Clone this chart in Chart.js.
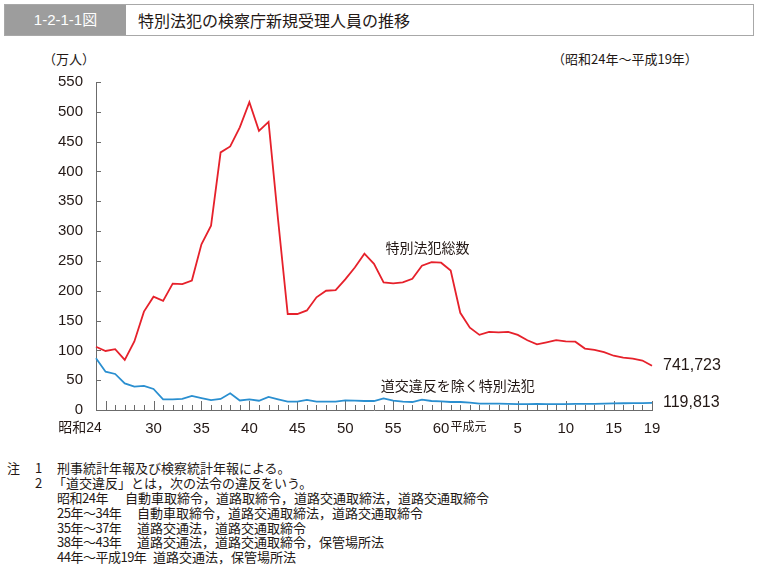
<!DOCTYPE html>
<html lang="ja">
<head>
<meta charset="utf-8">
<script src="https://cdn.jsdelivr.net/npm/chart.js@4.4.1/dist/chart.umd.min.js"></script>
<style>
    body { margin: 0; background: #fff; width: 758px; height: 570px; position: relative; overflow: hidden;
           font-family: "Noto Sans CJK JP", sans-serif; color: #231815; }
    .header { position: absolute; left: 4px; top: 4px; width: 748px; height: 30px; border: 1px solid #a8a8a8; }
    .fig-no { position: absolute; left: 0; top: 0; width: 121px; height: 30px; background: #9d9d9d; color: #fff;
              font: 15px "Liberation Sans", "Noto Sans CJK JP", sans-serif; line-height: 30px; text-align: center; }
    .title { position: absolute; left: 133px; top: 0; font-size: 16px; line-height: 30px; }
    .unit { position: absolute; top: 50px; font-size: 13px; line-height: 18px; }
    #chart { position: absolute; left: 0; top: 60px; }
    .note { position: absolute; font-size: 13px; line-height: 15px; white-space: nowrap; }
    .yr { letter-spacing: -0.5px; }
</style>
</head>
<body>
<div class="header"><div class="fig-no">1-2-1-1図</div><div class="title">特別法犯の検察庁新規受理人員の推移</div></div>
<div class="unit" style="left:43px">（万人）</div>
<div class="unit" style="left:552px">（昭和24年～平成19年）</div>
<canvas id="chart" width="758" height="390"></canvas>

<div class="note" style="left:7px;top:460px">注</div>
<div class="note" style="left:35px;top:460px">1</div>
<div class="note" style="left:57px;top:460px">刑事統計年報及び検察統計年報による。</div>
<div class="note" style="left:35px;top:475px">2</div>
<div class="note" style="left:53px;top:475px">「道交違反」とは，次の法令の違反をいう。</div>
<div class="note yr" style="left:57px;top:490px">昭和24年</div>
<div class="note" style="left:125px;top:490px">自動車取締令，道路取締令，道路交通取締法，道路交通取締令</div>
<div class="note yr" style="left:57px;top:505px">25年～34年</div>
<div class="note" style="left:137px;top:505px">自動車取締令，道路交通取締法，道路交通取締令</div>
<div class="note yr" style="left:57px;top:520px">35年～37年</div>
<div class="note" style="left:137px;top:520px">道路交通法，道路交通取締令</div>
<div class="note yr" style="left:57px;top:534px">38年～43年</div>
<div class="note" style="left:137px;top:534px">道路交通法，道路交通取締令，保管場所法</div>
<div class="note yr" style="left:57px;top:549px">44年～平成19年</div>
<div class="note" style="left:153px;top:549px">道路交通法，保管場所法</div>

<script>
// years: 昭和24 ... 昭和63, 平成元 ... 平成19
const categories = [];
for (let y = 24; y <= 63; y++) categories.push('昭和' + y + '年');
for (let y = 1; y <= 19; y++) categories.push('平成' + (y === 1 ? '元' : y) + '年');

// 特別法犯総数 (万人)
const totalSeries = [
    106, 99, 102, 84, 115, 165, 190, 183, 212, 211,
    217, 278, 309, 432, 442, 474, 516, 468, 483, 318,
    161, 161, 167, 189, 200, 201, 219, 239, 262, 245,
    214, 212.5, 214, 220, 242, 248, 247, 234, 163, 138,
    126, 131, 130, 131, 126, 117, 110, 113.5, 117, 115,
    114.5, 103, 101, 97, 91, 88, 86, 83, 74.1723,
];

// 道交違反を除く特別法犯 (万人)
const nonTrafficSeries = [
    86.7, 64.3, 60.4, 44.7, 39.1, 40.3, 35.2, 17.9, 17.9, 18.5,
    23.5, 20, 16.5, 18.5, 28, 16, 17.9, 15.5, 21.8, 17.9,
    14, 14, 16.8, 14, 14, 14, 16.2, 15.7, 15.1, 15.1,
    19.6, 15.7, 14, 13.4, 17.3, 15.1, 14.5, 13.4, 13.4, 12.3,
    10.6, 10.6, 10.6, 10.3, 10, 10, 10.3, 10, 10, 10,
    10.3, 10.3, 10.3, 10.6, 11, 11.3, 11.5, 11.5, 11.9813,
];

const endLabels = ['741,723', '119,813'];
const seriesNames = ['特別法犯総数', '道交違反を除く特別法犯'];

const xTickIndex = [0, 6, 11, 16, 21, 26, 31, 36, 40, 44, 49, 54, 58];
const xTickText = ['昭和24\u3000\u3000 ', '30', '35', '40', '45', '50', '55', '60', '平成元\u3000   ', '5', '10', '15', '19'];
const xTickSize = [14, 15, 15, 15, 15, 15, 15, 15, 12, 15, 15, 15, 15];
const yTicks = [0, 50, 100, 150, 200, 250, 300, 350, 400, 450, 500, 550];

const red = '#e6212b';
const blue = '#2a8fd0';
const axisColor = '#6b6b6b';
const fontFamily = '"Liberation Sans", "Noto Sans CJK JP", sans-serif';

function isMajor(i) {
    if (i === categories.length - 1) return true;
    if (i < 40) return (24 + i) % 5 === 0;
    return (i - 39) % 5 === 0;
}

const axisMarks = {
    id: 'axisMarks',
    beforeDatasetsDraw(chart) {
        const { ctx, scales: { x, y } } = chart;
        ctx.save();
        ctx.strokeStyle = axisColor;
        ctx.lineWidth = 1;
        ctx.beginPath();
        yTicks.forEach(v => {
            if (v === 0) return;
            const py = Math.round(y.getPixelForValue(v)) + 0.5;
            ctx.moveTo(x.left, py);
            ctx.lineTo(x.left + 5, py);
        });
        categories.forEach((c, i) => {
            if (i === 0) return;
            const px = Math.round(x.getPixelForValue(i)) + 0.5;
            ctx.moveTo(px, y.bottom);
            ctx.lineTo(px, y.bottom - (isMajor(i) ? 9 : 5));
        });
        ctx.stroke();
        ctx.restore();
    },
    afterDatasetsDraw(chart) {
        const { ctx, scales: { x, y } } = chart;
        const last = categories.length - 1;
        ctx.save();
        ctx.fillStyle = '#231815';
        ctx.textBaseline = 'middle';
        ctx.textAlign = 'left';
        ctx.font = '16px ' + fontFamily;
        ctx.fillText(endLabels[0], x.getPixelForValue(last) + 11, y.getPixelForValue(totalSeries[last]));
        ctx.fillText(endLabels[1], x.getPixelForValue(last) + 11, y.getPixelForValue(nonTrafficSeries[last]));
        ctx.font = '14px "Noto Sans CJK JP", sans-serif';
        ctx.fillText(seriesNames[0], x.getPixelForValue(30.2), y.getPixelForValue(272));
        ctx.fillText(seriesNames[1], x.getPixelForValue(29.7), y.getPixelForValue(41));
        ctx.restore();
    },
};

new Chart(document.getElementById('chart'), {
    type: 'line',
    data: {
        labels: categories,
        datasets: [
            { label: seriesNames[0], data: totalSeries, borderColor: red, borderWidth: 1.8 },
            { label: seriesNames[1], data: nonTrafficSeries, borderColor: blue, borderWidth: 1.8 },
        ],
    },
    options: {
        responsive: false,
        animation: false,
        events: [],
        elements: { point: { radius: 0 }, line: { tension: 0, fill: false } },
        layout: { padding: { top: 22, right: 106, left: 0, bottom: 0 } },
        plugins: { legend: { display: false }, tooltip: { enabled: false } },
        scales: {
            x: {
                offset: false,
                grid: { display: false, drawTicks: false },
                border: { display: true, color: axisColor, width: 1 },
                afterFit(scale) { scale.height = 40; },
                ticks: {
                    autoSkip: false,
                    maxRotation: 0,
                    padding: 10,
                    color: '#231815',
                    font(ctx) {
                        const k = xTickIndex.indexOf(ctx.index);
                        return { family: fontFamily, size: k >= 0 ? xTickSize[k] : 15 };
                    },
                    callback(value, index) {
                        const k = xTickIndex.indexOf(index);
                        return k >= 0 ? xTickText[k] : '';
                    },
                },
            },
            y: {
                min: 0,
                max: 550,
                grid: { display: false, drawTicks: false },
                border: { display: true, color: axisColor, width: 1 },
                afterFit(scale) { scale.width = 96; },
                afterBuildTicks(scale) { scale.ticks = yTicks.map(v => ({ value: v })); },
                ticks: {
                    padding: 13,
                    color: '#231815',
                    font: { family: fontFamily, size: 15 },
                },
            },
        },
    },
    plugins: [axisMarks],
});
</script>
</body>
</html>
